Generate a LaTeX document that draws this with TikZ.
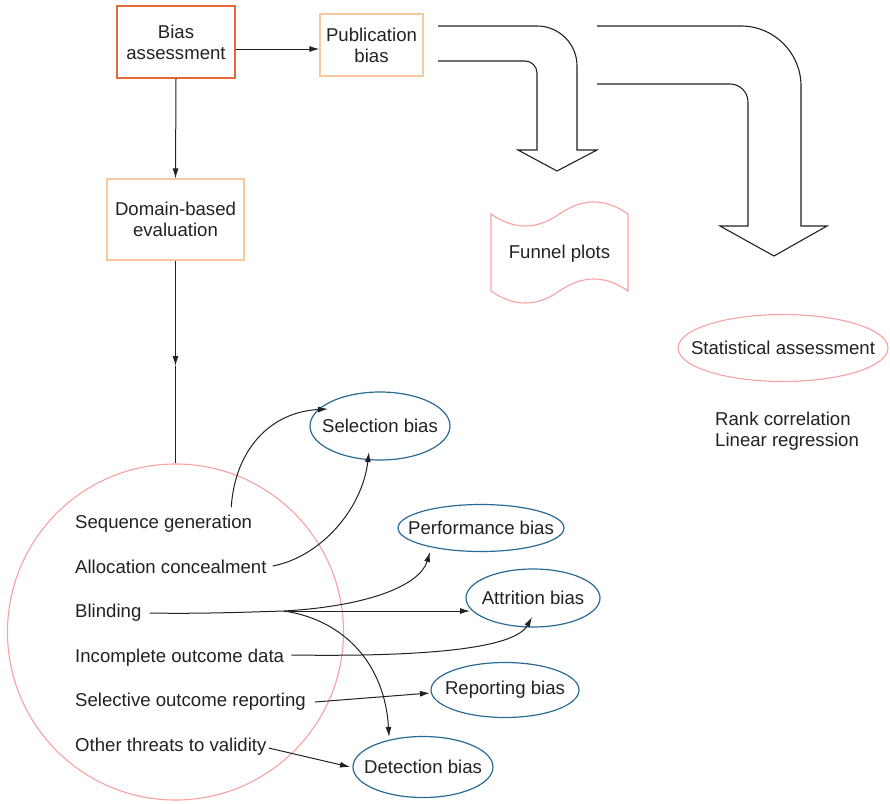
\documentclass[tikz,border=0pt]{standalone}
\usepackage{fontspec}
\setmainfont{Liberation Sans}
\usetikzlibrary{arrows.meta,shapes.geometric}
\definecolor{boxorange}{HTML}{E06A3A}
\definecolor{boxpeach}{HTML}{F7C9A1}
\definecolor{salmon}{HTML}{F7A1A1}
\definecolor{biasblue}{HTML}{2B6A94}
\definecolor{ink}{HTML}{222222}
% ellipse size is set by its minimum width/height only
\newcommand{\ovaltext}[1]{\makebox[0pt]{#1}}
\begin{document}
\begin{tikzpicture}[x=1pt,y=-1pt,
  every node/.style={font=\fontsize{18.6}{21}\selectfont, text=ink},
  arr/.style={-{Latex[length=10pt,width=6pt]}, line width=1pt, draw=ink},
  link/.style={line width=1pt, draw=ink},
  stagebox/.style={draw, rectangle, inner sep=0pt, align=center, line width=1.1pt},
  item/.style={anchor=base west, inner sep=0pt},
  biasoval/.style={draw=biasblue, ellipse, inner sep=0pt, line width=1.2pt},
  bigarrow/.style={line width=1.1pt, draw=ink, line join=miter},
]
\useasboundingbox (0,0) rectangle (890,803);

% assessment stages
\node[stagebox, draw=boxorange, line width=1.4pt, minimum width=118pt, minimum height=72pt] (assess) at (176,42) {Bias\\assessment};
\node[stagebox, draw=boxpeach, minimum width=103pt, minimum height=62pt] (pub) at (371.5,45) {Publication\\bias};
\node[stagebox, draw=boxpeach, minimum width=137pt, minimum height=81pt] (domain) at (175.5,219.5) {Domain-based\\evaluation};

% domains circle with its items
\node[draw=salmon, circle, line width=1.1pt, minimum size=336pt, inner sep=0pt] (domains) at (175.5,632) {};
\node[item] (seq) at (75,528) {Sequence generation};
\node[item] (alloc) at (75,573) {Allocation concealment};
\node[item] (blind) at (75,617) {Blinding};
\node[item] (incomp) at (75,662) {Incomplete outcome data};
\node[item] (selrep) at (75,706) {Selective outcome reporting};
\node[item] (other) at (75,751) {Other threats to validity};

% bias types
\node[biasoval, minimum width=140pt, minimum height=68pt] (selb) at (380,426) {\ovaltext{Selection bias}};
\node[biasoval, minimum width=166pt, minimum height=47pt] (perfb) at (481,528) {\ovaltext{Performance bias}};
\node[biasoval, minimum width=134pt, minimum height=58pt] (attrb) at (533,598) {\ovaltext{Attrition bias}};
\node[biasoval, minimum width=148pt, minimum height=55pt] (repb) at (505,690) {\ovaltext{Reporting bias}};
\node[biasoval, minimum width=140pt, minimum height=61pt] (detb) at (423,767) {\ovaltext{Detection bias}};

% publication bias methods
\draw[salmon, line width=1.1pt] (491,214) .. controls (513.8,230) and (536.7,230) .. (559.5,214)
  .. controls (582.3,198) and (605.2,198) .. (628,214) -- (628,291)
  .. controls (605.2,275) and (582.3,275) .. (559.5,291)
  .. controls (536.7,307) and (513.8,307) .. (491,291) -- cycle;
\node (funnel) at (559.5,254) {Funnel plots};
\node[draw=salmon, ellipse, inner sep=0pt, line width=1.1pt, minimum width=210pt, minimum height=67pt] (stat) at (783,348) {\ovaltext{Statistical assessment}};
\node[anchor=north west, inner sep=0pt, align=left] (methods) at (715,412) {Rank correlation\\Linear regression};

% bent block arrows
\draw[bigarrow] (438,26) -- (537,26) .. controls (559.1,26) and (577,43.9) .. (577,66)
  -- (577,150) -- (597,150) -- (557,171) -- (518,150) -- (537,150) -- (537,73)
  .. controls (537,66.4) and (531.6,61) .. (525,61) -- (438,61);
\draw[bigarrow] (597,26) -- (741,26) .. controls (774.1,26) and (801,52.9) .. (801,86)
  -- (801,226) -- (827,226) -- (774,256) -- (720,226) -- (748,226) -- (748,102)
  .. controls (748,92.1) and (739.9,84) .. (730,84) -- (597,84);

% stage connectors
\coordinate (pubin) at ([yshift=-7pt]assess.east);
\draw[arr] (pubin) -- (pubin -| pub.west);
\draw[arr] (assess.south) -- (domain.north);
\coordinate (midarrow) at (175.5,366);
\draw[arr] (domain.south) -- (midarrow);
\draw[link] (midarrow) -- (domains.north);

% domain to bias connectors
\draw[arr] ([shift={(-21,-21)}]seq.base east) .. controls (235,450) and (270,412) .. ([shift={(-52,-17)}]selb.center);
\draw[arr] ([shift={(6,-7)}]alloc.base east) .. controls (320,557) and (362,510) .. ([shift={(-11,26)}]selb.center);
\coordinate (split) at (284,611);
\draw[link] ([shift={(8,-4)}]blind.base east) .. controls (200,614) and (250,612) .. (split);
\draw[arr] (split) .. controls (370,606) and (420,585) .. ([shift={(-51,24)}]perfb.center);
\draw[arr] (split) -- ([shift={(-63,13)}]attrb.center);
\draw[arr] (split) .. controls (345,620) and (385,665) .. ([shift={(-34,-30)}]detb.center);
\draw[arr] ([shift={(7,-7)}]incomp.base east) .. controls (430,657) and (515,648) .. ([shift={(-1,19)}]attrb.center);
\draw[arr] ([shift={(9,-4)}]selrep.base east) -- ([shift={(-75,3)}]repb.center);
\draw[arr] ([shift={(2,-3)}]other.base east) -- ([shift={(-73,0)}]detb.center);
\end{tikzpicture}
\end{document}
